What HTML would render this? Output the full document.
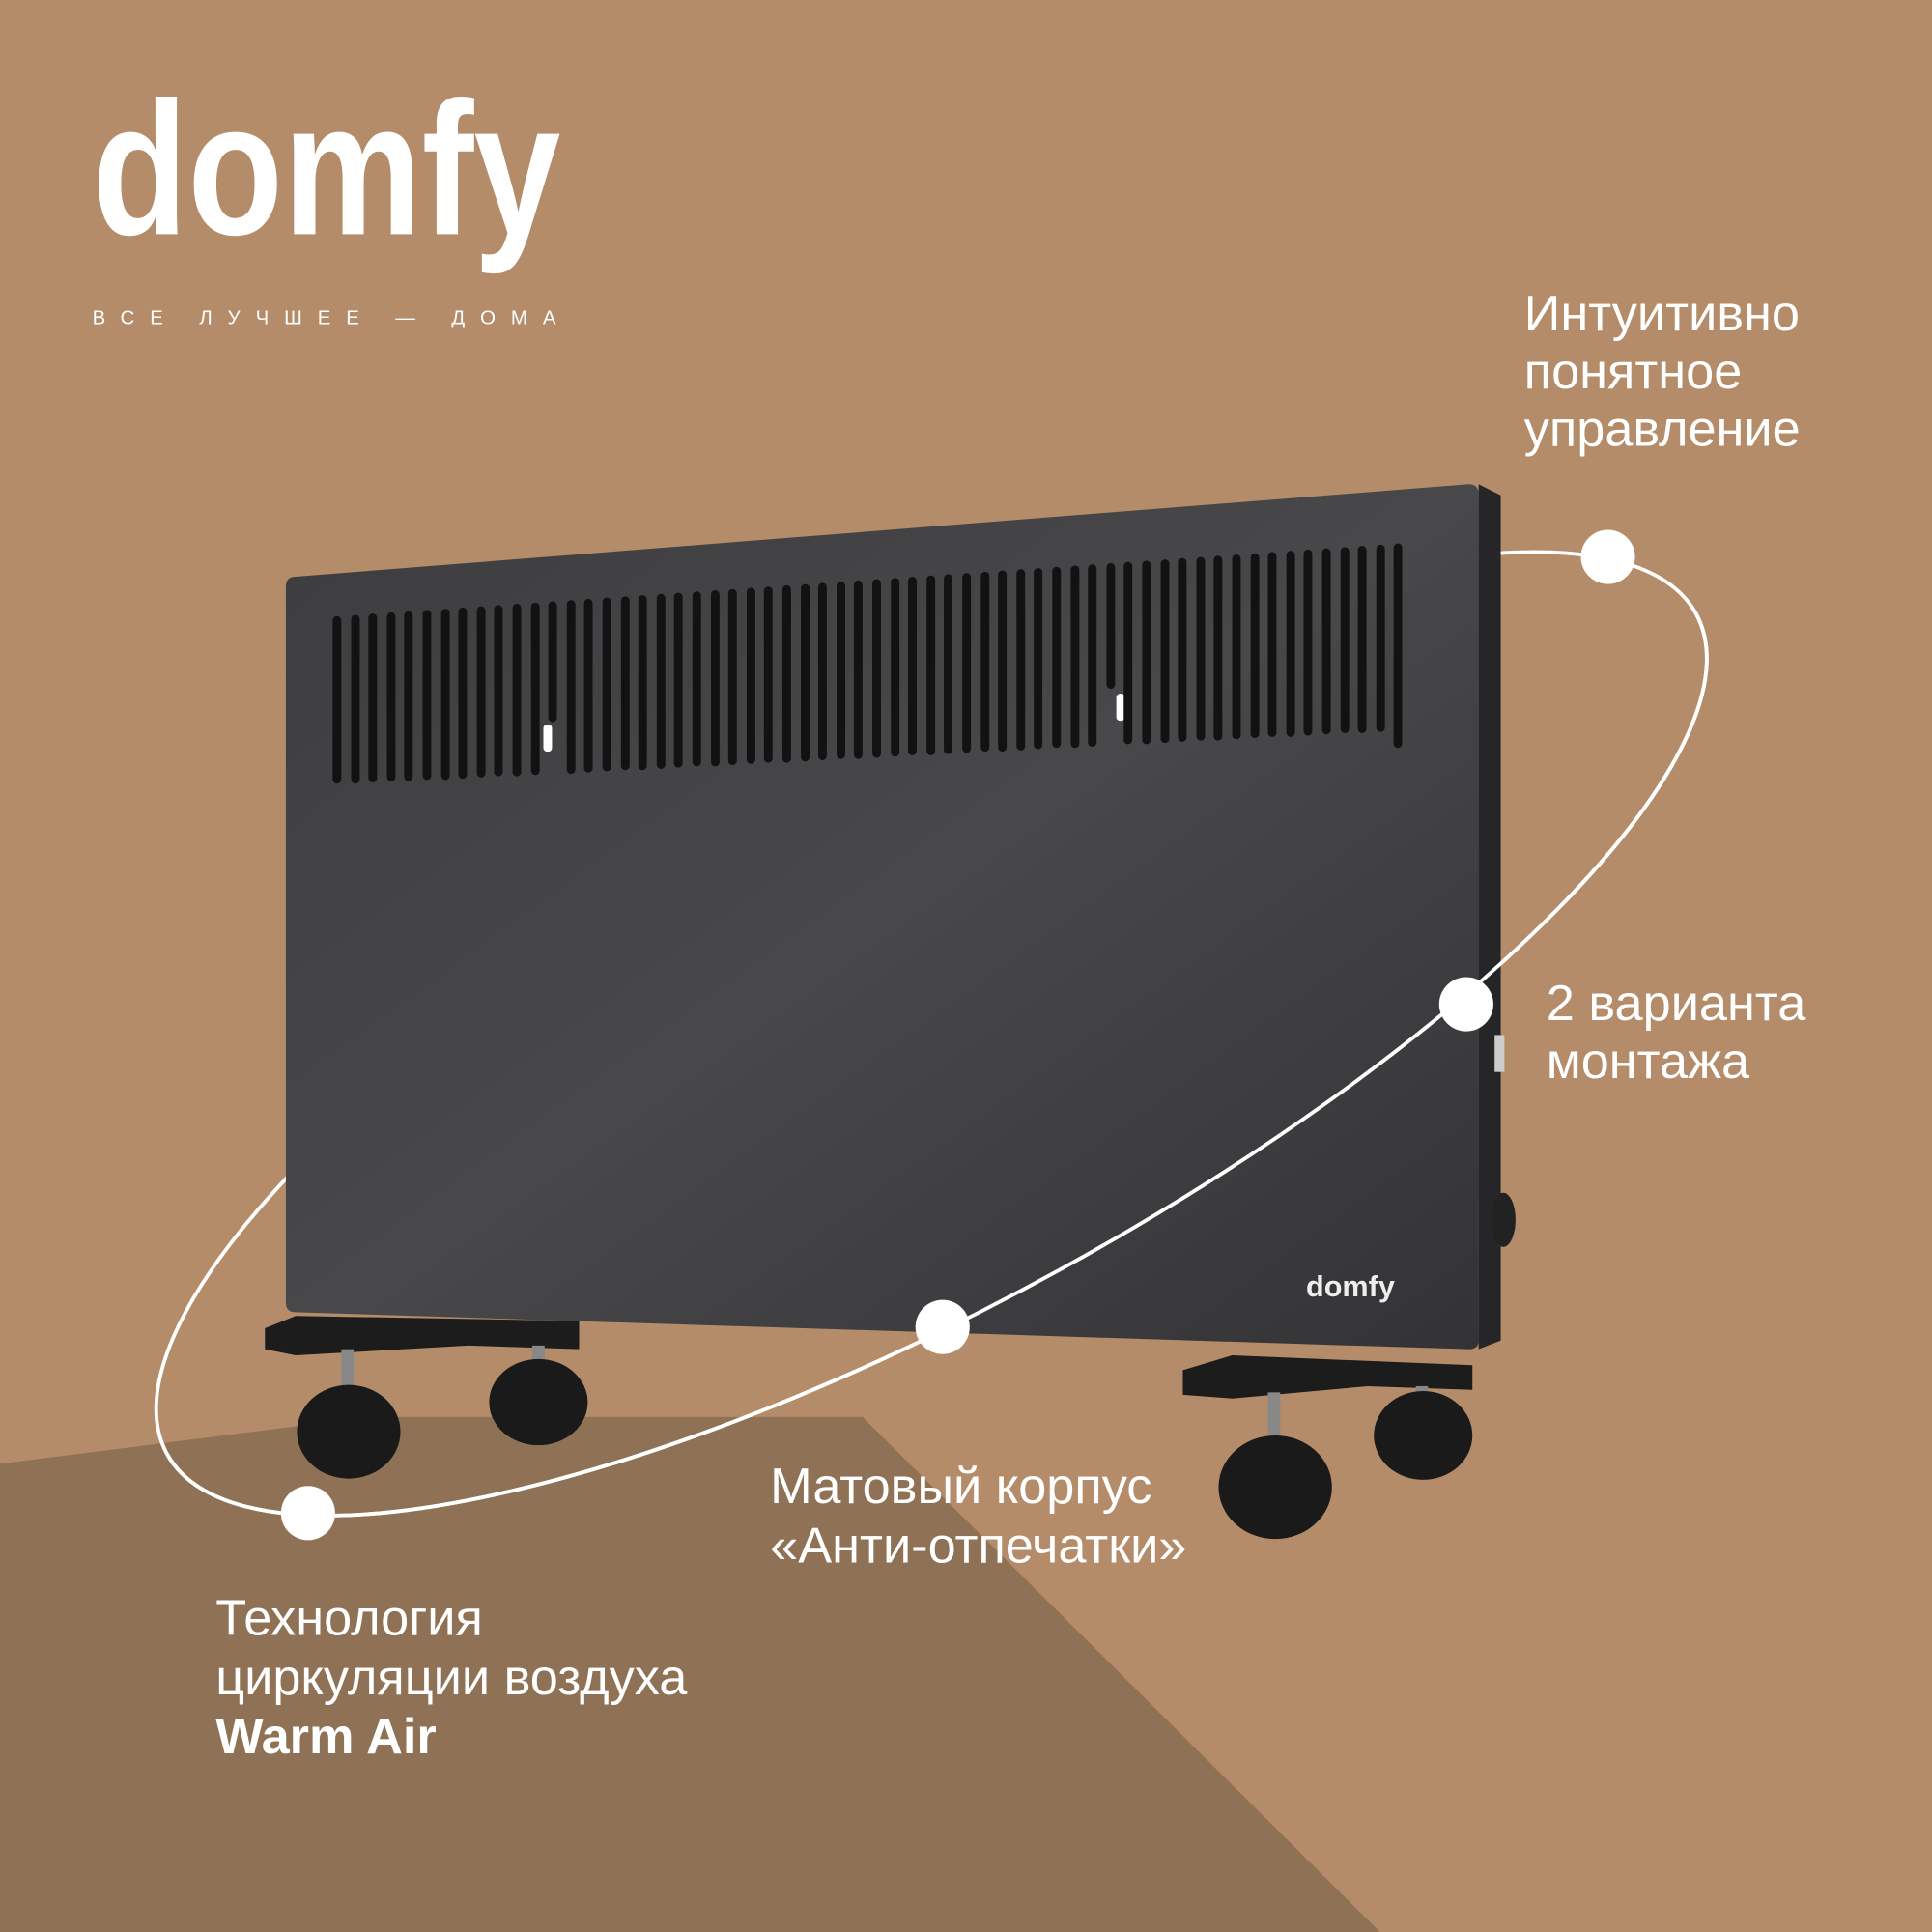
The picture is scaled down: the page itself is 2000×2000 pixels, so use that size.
<!DOCTYPE html>
<html><head><meta charset="utf-8"><style>html,body{margin:0;padding:0;background:#b48c69}svg{display:block}</style></head>
<body>
<svg width="2000" height="2000" viewBox="0 0 1568 1568" xmlns="http://www.w3.org/2000/svg" font-family="Liberation Sans, DejaVu Sans, sans-serif">
<defs>
<linearGradient id="pg" x1="0" y1="0" x2="1" y2="1">
<stop offset="0" stop-color="#3d3d3f"/><stop offset="0.5" stop-color="#48484a"/><stop offset="1" stop-color="#333335"/>
</linearGradient>
<clipPath id="front"><polygon points="0,1255 1568,392 1568,1568 0,1568"/></clipPath>
</defs>
<rect width="1568" height="1568" fill="#b48c69"/>
<polygon points="0,1188 300,1150 700,1150 1120,1568 0,1568" fill="#8f7255"/>
<!-- logo -->
<text x="75" y="190" font-size="154" font-weight="bold" fill="#fff" textLength="380" lengthAdjust="spacingAndGlyphs">domfy</text>
<text x="75" y="263" font-size="16" fill="#fff" letter-spacing="12.5">ВСЕ ЛУЧШЕЕ — ДОМА</text>
<!-- orbit back -->
<ellipse cx="756" cy="839" rx="708" ry="218" transform="rotate(-28.8 756 839)" fill="none" stroke="#fff" stroke-width="3"/>
<!-- feet -->
<polygon points="215,1078 240,1068 470,1072 470,1095 380,1092 240,1100 215,1095" fill="#1c1c1c"/>
<polygon points="960,1112 1000,1100 1195,1108 1195,1128 1110,1125 1000,1135 960,1132" fill="#1c1c1c"/>
<!-- heater -->
<polygon points="1200,393 1218,402 1218,1088 1200,1095" fill="#262628"/>
<path d="M240,468 L1192,393 Q1200,393 1200,401 L1200,1088 Q1200,1095 1192,1095 L240,1065 Q232,1065 232,1057 L232,476 Q232,468 240,468Z" fill="url(#pg)"/>
<rect x="441" y="588" width="7" height="22" rx="3" fill="#fff"/>
<rect x="906" y="563" width="7" height="22" rx="3" fill="#fff"/>
<rect x="1213" y="840" width="8" height="30" fill="#ccc"/>
<ellipse cx="1220" cy="990" rx="10" ry="22" fill="#222"/>
<text x="1060" y="1052" font-size="24" font-weight="bold" fill="#eee">domfy</text>
<!-- wheels -->
<g fill="#1a1a1a">
<rect x="277" y="1095" width="10" height="35" fill="#888"/>
<ellipse cx="283" cy="1162" rx="42" ry="38"/>
<rect x="432" y="1092" width="10" height="25" fill="#888"/>
<ellipse cx="437" cy="1138" rx="40" ry="35"/>
<rect x="1029" y="1130" width="10" height="35" fill="#888"/>
<ellipse cx="1035" cy="1207" rx="46" ry="42"/>
<rect x="1149" y="1125" width="10" height="20" fill="#888"/>
<ellipse cx="1155" cy="1165" rx="40" ry="36"/>
</g>
<g fill="#121213">
<rect x="270" y="500" width="7" height="136" rx="3.5"/><rect x="285" y="499" width="7" height="137" rx="3.5"/><rect x="299" y="498" width="7" height="137" rx="3.5"/><rect x="314" y="497" width="7" height="137" rx="3.5"/><rect x="328" y="496" width="7" height="138" rx="3.5"/><rect x="343" y="495" width="7" height="138" rx="3.5"/><rect x="358" y="494" width="7" height="139" rx="3.5"/><rect x="372" y="493" width="7" height="139" rx="3.5"/><rect x="387" y="492" width="7" height="139" rx="3.5"/><rect x="401" y="491" width="7" height="139" rx="3.5"/><rect x="416" y="490" width="7" height="140" rx="3.5"/><rect x="431" y="489" width="7" height="140" rx="3.5"/><rect x="445" y="488" width="7" height="98" rx="3.5"/><rect x="460" y="487" width="7" height="141" rx="3.5"/><rect x="474" y="486" width="7" height="141" rx="3.5"/><rect x="489" y="485" width="7" height="141" rx="3.5"/><rect x="504" y="484" width="7" height="141" rx="3.5"/><rect x="518" y="483" width="7" height="142" rx="3.5"/><rect x="533" y="482" width="7" height="142" rx="3.5"/><rect x="547" y="481" width="7" height="142" rx="3.5"/><rect x="562" y="480" width="7" height="142" rx="3.5"/><rect x="577" y="479" width="7" height="143" rx="3.5"/><rect x="591" y="478" width="7" height="143" rx="3.5"/><rect x="606" y="477" width="7" height="143" rx="3.5"/><rect x="620" y="476" width="7" height="143" rx="3.5"/><rect x="635" y="475" width="7" height="144" rx="3.5"/><rect x="650" y="474" width="7" height="144" rx="3.5"/><rect x="664" y="473" width="7" height="144" rx="3.5"/><rect x="679" y="472" width="7" height="144" rx="3.5"/><rect x="693" y="471" width="7" height="145" rx="3.5"/><rect x="708" y="470" width="7" height="145" rx="3.5"/><rect x="723" y="469" width="7" height="145" rx="3.5"/><rect x="737" y="468" width="7" height="145" rx="3.5"/><rect x="752" y="467" width="7" height="146" rx="3.5"/><rect x="766" y="466" width="7" height="146" rx="3.5"/><rect x="781" y="465" width="7" height="146" rx="3.5"/><rect x="796" y="464" width="7" height="146" rx="3.5"/><rect x="810" y="463" width="7" height="147" rx="3.5"/><rect x="825" y="462" width="7" height="147" rx="3.5"/><rect x="839" y="461" width="7" height="147" rx="3.5"/><rect x="854" y="460" width="7" height="147" rx="3.5"/><rect x="869" y="459" width="7" height="148" rx="3.5"/><rect x="883" y="458" width="7" height="148" rx="3.5"/><rect x="898" y="457" width="7" height="102" rx="3.5"/><rect x="912" y="456" width="7" height="148" rx="3.5"/><rect x="927" y="455" width="7" height="149" rx="3.5"/><rect x="942" y="454" width="7" height="149" rx="3.5"/><rect x="956" y="453" width="7" height="149" rx="3.5"/><rect x="971" y="452" width="7" height="149" rx="3.5"/><rect x="985" y="451" width="7" height="150" rx="3.5"/><rect x="1000" y="450" width="7" height="150" rx="3.5"/><rect x="1015" y="449" width="7" height="150" rx="3.5"/><rect x="1029" y="448" width="7" height="150" rx="3.5"/><rect x="1044" y="447" width="7" height="151" rx="3.5"/><rect x="1058" y="446" width="7" height="151" rx="3.5"/><rect x="1073" y="445" width="7" height="151" rx="3.5"/><rect x="1088" y="444" width="7" height="151" rx="3.5"/><rect x="1102" y="443" width="7" height="152" rx="3.5"/><rect x="1117" y="442" width="7" height="152" rx="3.5"/><rect x="1131" y="441" width="7" height="166" rx="3.5"/>
</g>
<!-- orbit front -->
<g clip-path="url(#front)">
<ellipse cx="756" cy="839" rx="708" ry="218" transform="rotate(-28.8 756 839)" fill="none" stroke="#fff" stroke-width="3"/>
</g>
<g fill="#fff">
<circle cx="1305" cy="452" r="22"/><circle cx="1190" cy="815" r="22"/><circle cx="765" cy="1077" r="22"/><circle cx="250" cy="1228" r="22"/>
</g>
<g fill="#fff" font-size="41">
<text x="1237" y="268">Интуитивно</text>
<text x="1237" y="315">понятное</text>
<text x="1237" y="362">управление</text>
<text x="1255" y="828">2 варианта</text>
<text x="1255" y="875">монтажа</text>
<text x="625" y="1220">Матовый корпус</text>
<text x="625" y="1268">«Анти-отпечатки»</text>
<text x="175" y="1327">Технология</text>
<text x="175" y="1375">циркуляции воздуха</text>
<text x="175" y="1423" font-weight="bold">Warm Air</text>
</g>
</svg>
</body></html>
